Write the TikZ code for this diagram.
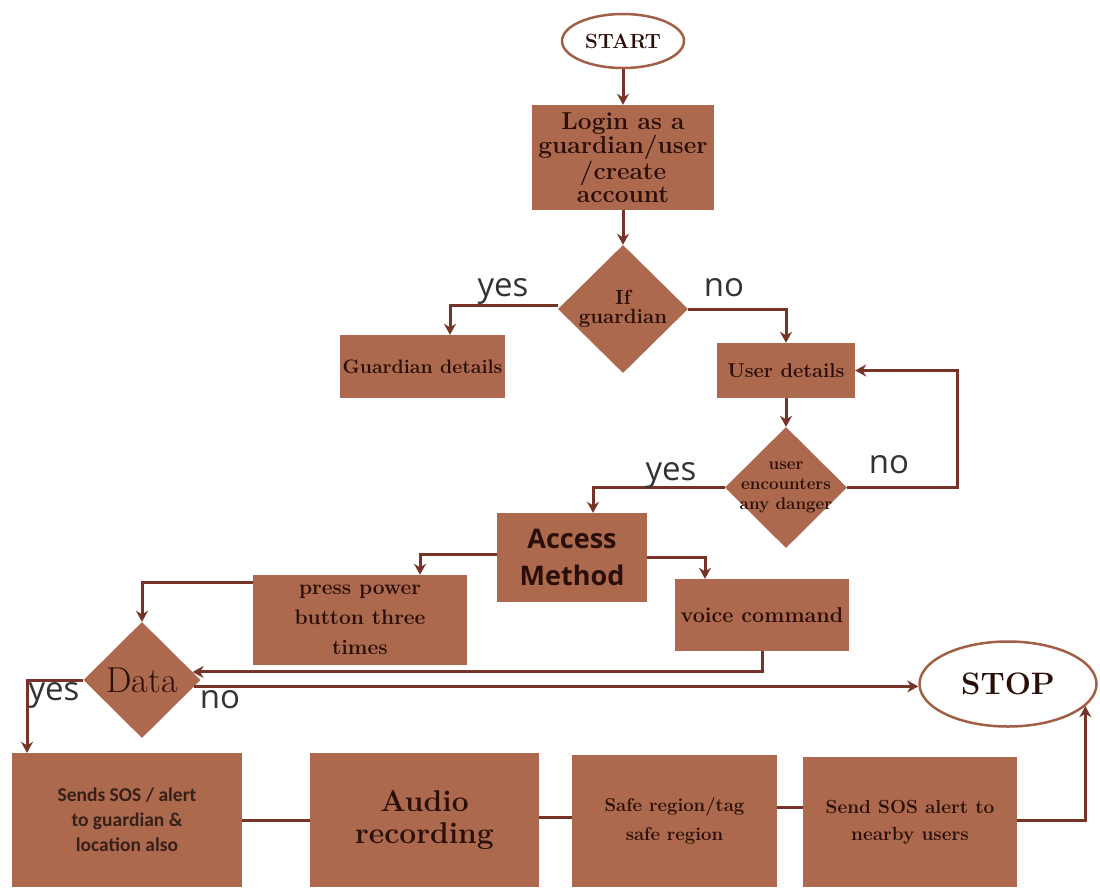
\documentclass[tikz,border=0pt]{standalone}
\usepackage{fontspec}
\newfontfamily\osans{Open Sans}
\newfontfamily\carl{Carlito}
\usetikzlibrary{shapes.geometric,arrows.meta,calc}
\definecolor{boxfill}{RGB}{173,105,78}
\definecolor{txt}{RGB}{42,14,8}
\definecolor{lncol}{RGB}{118,52,40}
\definecolor{ellline}{RGB}{160,96,70}
\newcommand\fs[2]{\fontsize{#1}{#2}\selectfont}
\tikzset{
 box/.style={fill=boxfill, text=txt, align=center, inner sep=0pt},
 dia/.style={diamond, fill=boxfill, text=txt, align=center, inner sep=0pt},
 ell/.style={ellipse, draw=ellline, line width=2.5pt, fill=white, inner sep=0pt, text=txt},
 arr/.style={draw=lncol, line width=3pt, -{Stealth[length=11pt,width=12pt]}},
 ln/.style={draw=lncol, line width=3pt},
 lbl/.style={font=\osans\fs{33}{33}, text=black!80, anchor=base, inner sep=0pt},
}
\begin{document}
\begin{tikzpicture}[x=1pt,y=-1pt]
\useasboundingbox (0,0) rectangle (1100,887);
\fill[white] (0,0) rectangle (1100,887);

% nodes
\node[ell, minimum width=122, minimum height=54, font=\bfseries\fs{20.5}{20}] (start) at (623,41) {START};
\node[box, minimum width=182, minimum height=105, font=\bfseries\fs{24.5}{23}] (login) at (623,157.5)
  {Login as a\\guardian/user\\/create\\account};
\node[dia, minimum width=130, minimum height=128, font=\bfseries\fs{20.5}{19}] (gd) at (623,309) {If\\guardian};
\node[box, minimum width=165, minimum height=63, font=\bfseries\fs{19.5}{19}] (gdet) at (422.5,366.5) {Guardian details};
\node[box, minimum width=138, minimum height=55, font=\bfseries\fs{20}{19}] (udet) at (786,370.5) {User details};
\node[dia, minimum width=122, minimum height=121] (dd) at (786,487.5) {};
\node[text=txt, align=center, inner sep=0pt, font=\bfseries\fs{17}{20}] (ddt) at (dd.center) {user\\encounters\\any danger};
\node[box, minimum width=150, minimum height=89, font=\osans\bfseries\fs{27}{37}] (am) at (572,557.5) {Access\\Method};
\node[box, minimum width=214, minimum height=90, font=\bfseries\fs{21}{30}] (press) at (360,620) {press power\\button three\\times};
\node[box, minimum width=174, minimum height=72, font=\bfseries\fs{21.5}{20}] (voice) at (762,615) {voice command};
\node[dia, minimum width=117, minimum height=116, font=\fs{36}{36}] (data) at (142,680) {Data};
\node[ell, minimum width=177, minimum height=85, font=\bfseries\fs{31}{31}] (stop) at (1008,684) {STOP};

\node[box, minimum width=230, minimum height=134, font=\carl\bfseries\fs{19.5}{25}, text=txt!85!gray] (b1) at (127,820)
  {Sends SOS / alert\\to guardian \&\\location also};
\node[box, minimum width=229, minimum height=134, font=\bfseries\fs{30}{32}] (b2) at (424.5,820)
  {Audio\\recording};
\node[box, minimum width=205, minimum height=132, font=\bfseries\fs{18.5}{29}] (b3) at (674.5,821)
  {Safe region/tag\\safe region};
\node[box, minimum width=214, minimum height=130, font=\bfseries\fs{19}{27}] (b4) at (910,822)
  {Send SOS alert to\\nearby users};

% connectors
\draw[arr] (start) -- (login);
\draw[arr] (login) -- (gd);
\draw[arr] ([yshift=4]gd.west) -| ([xshift=27.5]gdet.north);
\draw[arr] (gd.east) -| (udet.north);
\draw[arr] (udet) -- (dd);
\draw[arr] (dd.east) -- ++(110,0) |- (udet.east);
\draw[arr] (dd.west) -| ([xshift=21]am.north);
\draw[arr] ([yshift=3.5]am.west) -| ([xshift=60]press.north);
\draw[arr] (am.east) -| ([xshift=-57]voice.north);
\draw[arr] ([yshift=38]press.west) -| (data.north);
\draw[arr] (voice.south) |- (data.9);
\draw[arr] (data.-7) -- (data.-7 -| stop.west);
\draw[arr] (data.west) -| ([xshift=-100]b1.north);
\draw[ln] (b1.east) -- (b2.west);
\draw[ln] ([yshift=3]b2.east) -- ([yshift=3]b2.east -| b3.west);
\draw[ln] ([yshift=14]b3.east) -- ([yshift=14]b3.east -| b4.west);
\draw[arr] ([yshift=2]b4.east) -| (stop.-16);

% labels
\node[lbl] (ly1) at (503,296) {yes};
\node[lbl] (ln1) at (724,296) {no};
\node[lbl] (ly2) at (671,480) {yes};
\node[lbl] (ln2) at (889,473) {no};
\node[lbl] (ly3) at (54,700) {yes};
\node[lbl] (ln3) at (220,708) {no};
\end{tikzpicture}
\end{document}
